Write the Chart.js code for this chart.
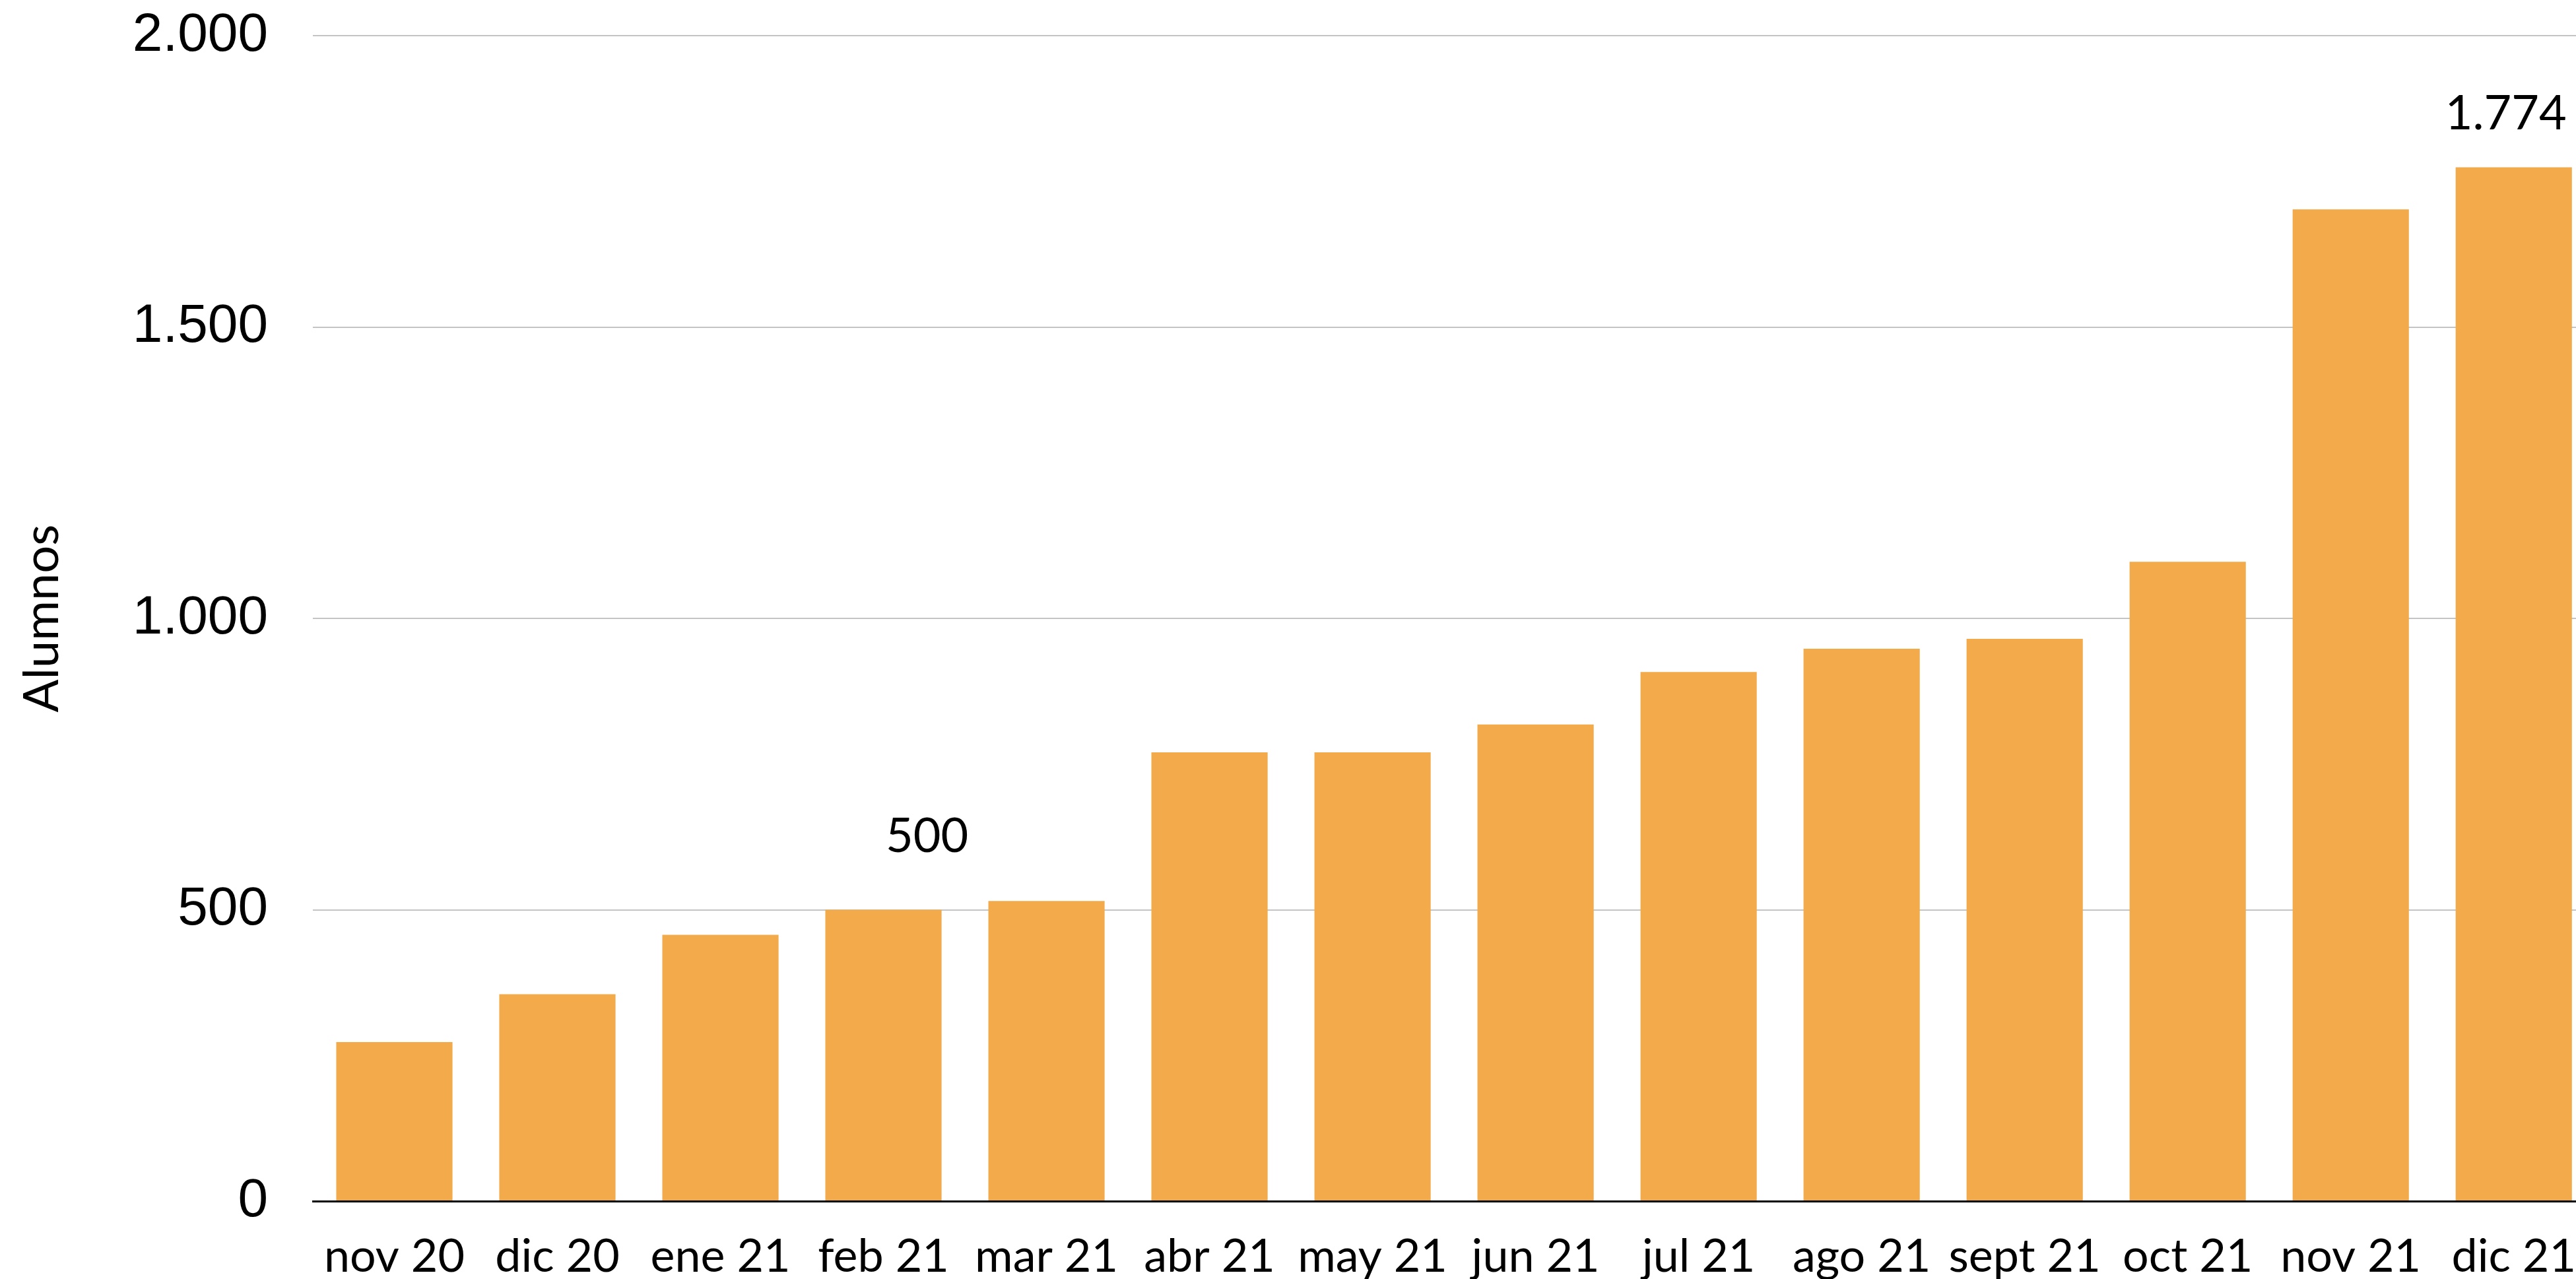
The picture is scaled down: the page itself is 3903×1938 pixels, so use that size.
<!DOCTYPE html>
<html lang="es">
<head>
<meta charset="utf-8">
<title>Alumnos por mes</title>
<script src="https://cdn.jsdelivr.net/npm/chart.js@4.4.1/dist/chart.umd.min.js"></script>
<style>
  html, body { margin: 0; padding: 0; background: #fff; overflow: hidden; }
  /* el área de barras sigue un poco más allá del borde derecho */
  #wrap { width: 3945px; height: 1938px; position: relative; }
</style>
</head>
<body>
<div id="wrap"><canvas id="chartAlumnos"></canvas></div>
<script>
// ====================
// Datos
// ====================
const meses = ["nov 20", "dic 20", "ene 21", "feb 21", "mar 21", "abr 21", "may 21",
               "jun 21", "jul 21", "ago 21", "sept 21", "oct 21", "nov 21", "dic 21"];
const alumnos = [273, 355, 457, 500, 515, 770, 770, 818, 908, 948, 965, 1097, 1702, 1774];
const ticksY = [0, 500, 1000, 1500, 2000];
// barras que llevan el valor encima
const conEtiqueta = [3, 13];

const NARANJA = "#f2aa4a";
const fmt = (n) => new Intl.NumberFormat("de-DE").format(n || 0);

// ------------- ETIQUETAS DE VALOR -------------
const etiquetasValor = {
    id: "etiquetasValor",
    afterDatasetsDraw(chart, args, opts) {
        const { ctx } = chart;
        const meta = chart.getDatasetMeta(0);
        ctx.save();
        ctx.font = opts.font;
        ctx.fillStyle = "#000";
        ctx.textAlign = "center";
        ctx.textBaseline = "alphabetic";
        conEtiqueta.forEach(i => {
            const bar = meta.data[i];
            const off = opts.offsets[i] || { dx: 0, dy: 60 };
            ctx.fillText(fmt(alumnos[i]), bar.x + off.dx, bar.y - off.dy);
        });
        ctx.restore();
    }
};

// ------------- GRÁFICO -------------
new Chart(document.getElementById("chartAlumnos"), {
    type: "bar",
    data: {
        labels: meses,
        datasets: [{
            label: "Alumnos",
            data: alumnos,
            backgroundColor: NARANJA,
            borderWidth: 0,
            categoryPercentage: 1,
            barPercentage: 0.713
        }]
    },
    plugins: [etiquetasValor],
    options: {
        responsive: true,
        maintainAspectRatio: false,
        animation: false,
        layout: { padding: { top: 54, left: 0, right: 0, bottom: 0 } },
        plugins: {
            legend: { display: false },
            tooltip: { enabled: false },
            etiquetasValor: {
                font: "72px Lato",
                offsets: { 3: { dx: 66, dy: 88 }, 13: { dx: -12, dy: 58 } }
            }
        },
        scales: {
            x: {
                grid: { display: false, drawTicks: false },
                border: { display: true, color: "#000", width: 3 },
                ticks: {
                    color: "#000",
                    padding: 42,
                    maxRotation: 0,
                    autoSkip: false,
                    font: { family: "Lato", size: 70 }
                },
                afterFit(scale) { scale.height = 118; }
            },
            y: {
                min: 0,
                max: 2000,
                afterBuildTicks(scale) { scale.ticks = ticksY.map(v => ({ value: v })); },
                grid: { color: "#c4c4c4", lineWidth: 2, drawTicks: false },
                border: { display: false },
                ticks: {
                    color: "#000",
                    padding: 68,
                    font: { family: "Liberation Sans", size: 82 },
                    callback: (v) => fmt(v)
                },
                title: {
                    display: true,
                    text: "Alumnos",
                    color: "#000",
                    font: { family: "Lato", size: 74 },
                    padding: { top: 20, bottom: 0 }
                },
                afterFit(scale) {
                    // ancho fijo y sin reservar margen extra para las etiquetas
                    scale.width = 474;
                    scale.paddingTop = 0;
                    scale.paddingBottom = 0;
                }
            }
        }
    }
});
</script>
</body>
</html>
